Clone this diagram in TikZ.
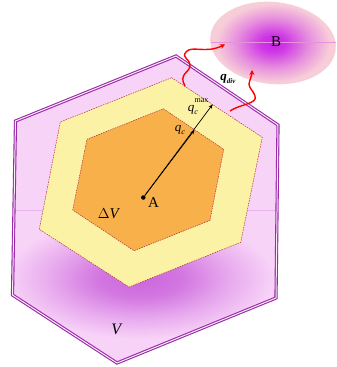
\documentclass[tikz,border=0pt]{standalone}
\usepackage{fontspec}
\setmainfont{Liberation Serif}
\usetikzlibrary{decorations.pathmorphing,arrows.meta}
\definecolor{outerfill}{HTML}{F8D3F8}
\definecolor{outerline}{HTML}{9A2AA8}
\definecolor{glow}{HTML}{CC66DD}
\definecolor{yellowfill}{HTML}{FCF2A6}
\definecolor{orangefill}{HTML}{F8B14A}
\definecolor{dashred}{HTML}{B03040}
\definecolor{ellout}{HTML}{F7CDD8}
\definecolor{ellin}{HTML}{C81EE8}
\pgfdeclareradialshading{bshade}{\pgfpoint{0bp}{0bp}}{color(0bp)=(ellin); color(5bp)=(ellin!85!ellout); color(14bp)=(ellin!35!ellout); color(22bp)=(ellout); color(50bp)=(ellout)}
\pgfdeclareradialshading{glowshade}{\pgfpoint{0bp}{0bp}}{color(0bp)=(glow); color(5bp)=(glow!85!outerfill); color(11bp)=(glow!35!outerfill); color(16bp)=(outerfill); color(50bp)=(outerfill)}
\tikzset{
  hexborder/.style={draw=dashred, line width=0.5pt, dash pattern=on 1.5pt off 1pt},
  heatarrow/.style={draw=red, line width=1.4pt, -{Stealth[length=5pt,width=5pt]}},
  lbl/.style={inner sep=0pt}
}
\begin{document}
\begin{tikzpicture}[x=1pt,y=-1pt]
\useasboundingbox (0,0) rectangle (337,367);
% outer hexagon
\coordinate (o1) at (176,56);
\coordinate (o2) at (278,125);
\coordinate (o3) at (276,298);
\coordinate (o4) at (117,363);
\coordinate (o5) at (12.5,295);
\coordinate (o6) at (15.5,121);
\fill[outerfill] (o1)--(o2)--(o3)--(o4)--(o5)--(o6)--cycle;
\begin{scope}
  \clip (o1)--(o2)--(o3)--(o4)--(o5)--(o6)--cycle;
  \shade[shading=glowshade] (140,278) ellipse [x radius=210, y radius=95];
  \draw[glow!30!outerfill, line width=0.5pt] (15,210) -- (278,210);
\end{scope}
\draw[outerline, double=outerfill!40, double distance=1pt, line width=1.1pt, line join=miter] (o1)--(o2)--(o3)--(o4)--(o5)--(o6)--cycle;
% yellow hexagon
\coordinate (y1) at (171.7,77.7);
\coordinate (y2) at (262.3,137.3);
\coordinate (y3) at (240.7,242.3);
\coordinate (y4) at (129,287);
\coordinate (y5) at (39.3,229.3);
\coordinate (y6) at (60.3,122);
\fill[yellowfill] (y1)--(y2)--(y3)--(y4)--(y5)--(y6)--cycle;
\draw[hexborder] (y1)--(y2)--(y3)--(y4)--(y5)--(y6)--cycle;
% orange hexagon
\coordinate (r1) at (163.3,108.7);
\coordinate (r2) at (223.7,149.3);
\coordinate (r3) at (210,220.3);
\coordinate (r4) at (134,250.7);
\coordinate (r5) at (72.7,210);
\coordinate (r6) at (87,139.3);
\fill[orangefill] (r1)--(r2)--(r3)--(r4)--(r5)--(r6)--cycle;
\draw[hexborder] (r1)--(r2)--(r3)--(r4)--(r5)--(r6)--cycle;
% ellipse B
\shade[shading=bshade, rotate around={-6:(273,43)}] (273,43) ellipse [x radius=63, y radius=41];
\draw[ellin!35!ellout, line width=0.5pt] (211,42) -- (336,42);
\node[lbl, font=\fontsize{15}{15}\selectfont] (B) at (276,42) {B};
% center point and radius arrow
\node[circle, fill=black, inner sep=0pt, minimum size=4.5pt] (A) at (143.3,197.5) {};
\node[lbl, font=\fontsize{15}{15}\selectfont, anchor=west] (Alab) at (148,203) {A};
\coordinate (qmax) at (212.7,104.3);
\coordinate (qc) at (194.5,130);
\draw[line width=0.7pt, -{Stealth[length=4.5pt,width=3.5pt]}] (A) -- (qmax);
\draw[line width=0.7pt, -{Stealth[length=4.5pt,width=3.5pt]}] (A) -- (qc);
\node[lbl, font=\fontsize{13}{13}\selectfont] (qcl) at (180,130) {\textit{q}\raisebox{-2.5pt}{\fontsize{8}{8}\selectfont\textit{c}}};
\node[lbl, font=\fontsize{13}{13}\selectfont] (qmaxl) at (193,110) {\textit{q}\raisebox{-2.5pt}{\fontsize{8}{8}\selectfont\textit{c}}};
\node[lbl, font=\fontsize{8}{8}\selectfont] (maxl) at (201.5,101) {max};
\node[lbl, font=\fontsize{15}{15}\selectfont] (dV) at (109,214) {$\Delta$\textit{V}};
\node[lbl, font=\fontsize{16}{16}\selectfont] (Vl) at (117,329) {\textit{V}};
% heat flux arrows
\coordinate (h1s) at (185,86);
\coordinate (h1e) at (225,44.5);
\coordinate (h2s) at (230,111);
\coordinate (h2e) at (252,70);
\draw[heatarrow] (h1s) .. controls (178,74) and (190,72) .. (190,66)
  .. controls (190,58) and (181,58) .. (186,52)
  .. controls (192,45) and (205,54) .. (h1e);
\draw[heatarrow] (h2s) .. controls (240,104) and (258,104) .. (255,96)
  .. controls (252,88) and (247,88) .. (250,80)
  .. controls (251,77) and (252,74) .. (h2e);
\node[lbl, font=\fontsize{13}{13}\selectfont\bfseries] (qdiv) at (228,79) {\textit{q}\raisebox{-2.5pt}{\fontsize{7}{7}\selectfont\textit{div}}};
\end{tikzpicture}
\end{document}
